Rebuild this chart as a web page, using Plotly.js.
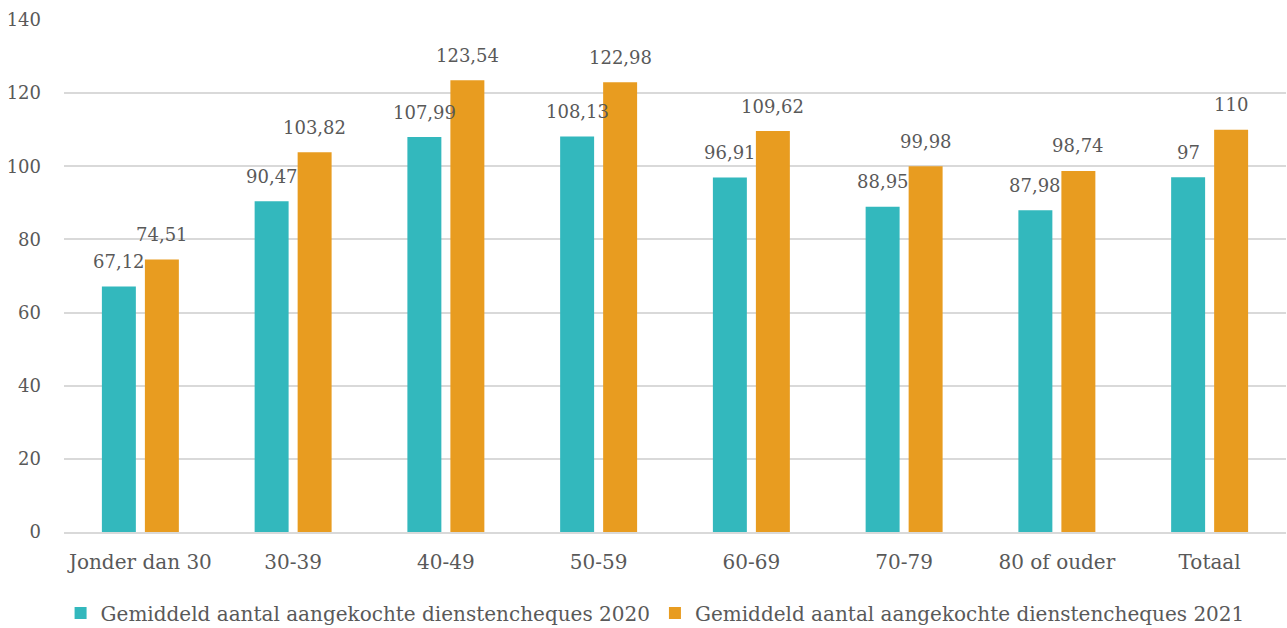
<!DOCTYPE html>
<html><head><meta charset="utf-8">
<script src="https://cdn.plot.ly/plotly-3.0.1.min.js"></script>
<style>html,body{margin:0;padding:0;background:#fff}#c{width:1287px;height:628px}</style>
</head><body><div id="c"></div>
<script>
const categories = ["Jonder dan 30","30-39","40-49","50-59","60-69","70-79","80 of ouder","Totaal"];
const values2020 = [67.12, 90.47, 107.99, 108.13, 96.91, 88.95, 87.98, 97];
const values2021 = [74.51, 103.82, 123.54, 122.98, 109.62, 99.98, 98.74, 110];
const labels2020 = ["67,12","90,47","107,99","108,13","96,91","88,95","87,98","97"];
const labels2021 = ["74,51","103,82","123,54","122,98","109,62","99,98","98,74","110"];
const seriesNames = ["Gemiddeld aantal aangekochte dienstencheques 2020","Gemiddeld aantal aangekochte dienstencheques 2021"];

const FONT = "DejaVu Serif";
const TXT = "#595959";
const traces = [
 {type:"bar", x:categories, y:values2020, name:seriesNames[0], marker:{color:"#33B8BD"}},
 {type:"bar", x:categories, y:values2021, name:seriesNames[1], marker:{color:"#E89C20"}}
];
const annotations = [];
const half = 21.5;
[[values2020, labels2020, -half], [values2021, labels2021, half]].forEach(([vals, labs, dx]) => {
  categories.forEach((c, i) => {
    annotations.push({x:c, y:vals[i], xref:"x", yref:"y", text:labs[i], showarrow:false,
      xanchor:"center", yanchor:"middle", xshift:dx, yshift:25,
      font:{family:FONT, size:18, color:TXT}});
  });
});
const layout = {
 width:1287, height:628,
 margin:{l:64,r:1,t:20,b:96},
 barmode:"group", bargap:0.437, bargroupgap:0.21,
 paper_bgcolor:"#fff", plot_bgcolor:"#fff",
 font:{family:FONT,size:19,color:TXT},
 annotations: annotations,
 xaxis:{showgrid:false, showline:true, linecolor:"#d9d9d9", linewidth:2, ticks:"", tickfont:{family:FONT,size:20,color:TXT}, ticklabelstandoff:11},
 yaxis:{range:[0,140], dtick:20, showgrid:true, gridcolor:"#d9d9d9", gridwidth:2, zeroline:false, ticks:"", ticklen:0,
        tickfont:{family:FONT,size:18,color:TXT}, ticklabelstandoff:22},
 legend:{orientation:"h", x:0.509, xref:"container", xanchor:"center", y:0.024, yref:"container", yanchor:"middle",
         font:{family:FONT,size:20,color:TXT}, traceorder:"normal"},
 showlegend:true
};
Plotly.newPlot("c", traces, layout, {displayModeBar:false, staticPlot:true});
</script></body></html>
